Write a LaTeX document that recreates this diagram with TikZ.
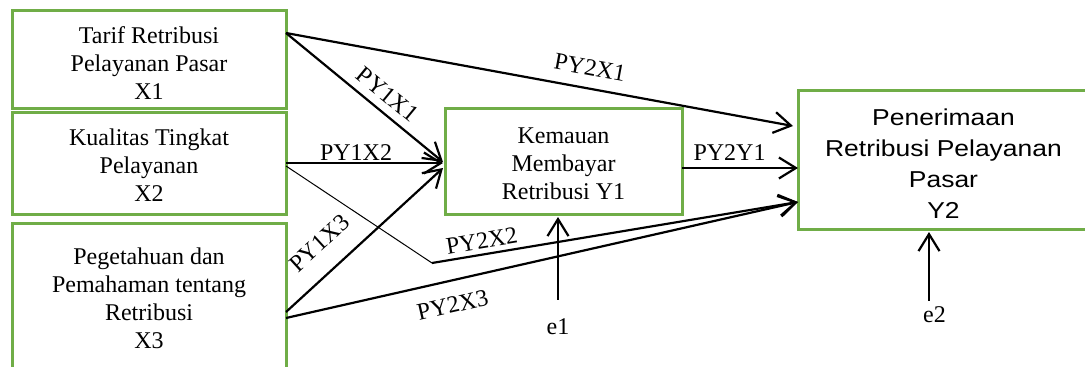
\documentclass[tikz,border=0pt]{standalone}
\usepackage{fontspec}
\setmainfont{Liberation Serif}
\newfontfamily\boxsans[FakeStretch=1.15]{Liberation Sans}
\usetikzlibrary{arrows.meta,calc}
\definecolor{boxgreen}{HTML}{70AD47}
\begin{document}
\begin{tikzpicture}[x=1pt,y=-1pt,
  varbox/.style={draw=boxgreen, line width=3pt, inner sep=0pt, outer sep=0pt},
  boxtext/.style={align=center, inner sep=0pt, font=\fontsize{24}{28}\selectfont},
  conn/.style={line width=2.2pt, -{Straight Barb[length=17pt,width=21pt]}},
  thinconn/.style={line width=1pt},
  coef/.style={font=\fontsize{24}{28}\selectfont, inner sep=0pt, sloped},
  errlabel/.style={font=\fontsize{24}{28}\selectfont, inner sep=0pt}]
\useasboundingbox (0,0) rectangle (1085,367);
\clip (0,0) rectangle (1085,367);

% variable boxes
\node[varbox, minimum width=274pt, minimum height=98pt] (x1) at (149,59) {};
\node[varbox, minimum width=274pt, minimum height=102pt] (x2) at (149,163) {};
\node[varbox, minimum width=274pt, minimum height=150pt] (x3) at (149,298) {};
\node[varbox, minimum width=237pt, minimum height=106pt] (y1) at (563.5,161) {};
\node[varbox, minimum width=291pt, minimum height=139pt] (y2) at (943.5,159.5) {};

% their texts
\node[boxtext, yshift=-4pt] (x1t) at (x1) {Tarif Retribusi\\Pelayanan Pasar\\X1};
\node[boxtext, yshift=-2.5pt] (x2t) at (x2) {Kualitas Tingkat\\Pelayanan\\X2};
\node[boxtext] (x3t) at (x3) {Pegetahuan dan\\Pemahaman tentang\\Retribusi\\X3};
\node[boxtext, yshift=-2.5pt] (y1t) at (y1) {Kemauan\\Membayar\\Retribusi Y1};
\node[boxtext, yshift=-4pt, font=\boxsans\fontsize{23}{31}\selectfont] (y2t) at (y2)
  {Penerimaan\\Retribusi Pelayanan\\Pasar\\Y2};

% error terms
\node[errlabel] (e1) at (558,327) {e1};
\node[errlabel] (e2) at (934.5,315) {e2};
\coordinate (bend) at (432,263);

% paths
\draw[conn] ([yshift=26pt]x1.east) -- node[coef, above=12pt, pos=0.592] {PY2X1}
  ([xshift=-5pt,yshift=33.5pt]y2.west);
\draw[conn] ([yshift=26pt]x1.east) -- node[coef, above=8pt, pos=0.578] {PY1X1}
  ([xshift=-2pt,yshift=-1pt]y1.west);
\draw[conn] (x2.east) -- node[coef, above=1.5pt, pos=0.446] {PY1X2}
  ([xshift=-2pt,yshift=-2pt]y1.west);
\draw[thinconn] ([yshift=-3pt]x2.east) -- (bend);
\draw[conn] (bend) -- node[coef, above=4.5pt, pos=0.142] {PY2X2}
  ([yshift=-42.5pt]y2.west);
\draw[conn] ([yshift=-14pt]x3.east) -- node[coef, above=19pt, pos=0.333] {PY1X3}
  ([xshift=-2pt,yshift=-7pt]y1.west);
\draw[conn] ([yshift=-20pt]x3.east) -- node[coef, below=15pt, pos=0.315] {PY2X3}
  ([yshift=-42.5pt]y2.west);
\draw[conn] ([yshift=-7pt]y1.east) -- node[coef, above=6pt, pos=0.41] {PY2Y1}
  ([yshift=-8.5pt]y2.west);
\draw[conn] ([yshift=19pt]e1.north) -- ([yshift=-3pt]e1.north |- y1.south);
\draw[conn] ([xshift=-5.5pt,yshift=6pt]e2.north) -- ([xshift=-5.5pt,yshift=-3pt]e2.north |- y2.south);
\end{tikzpicture}
\end{document}
